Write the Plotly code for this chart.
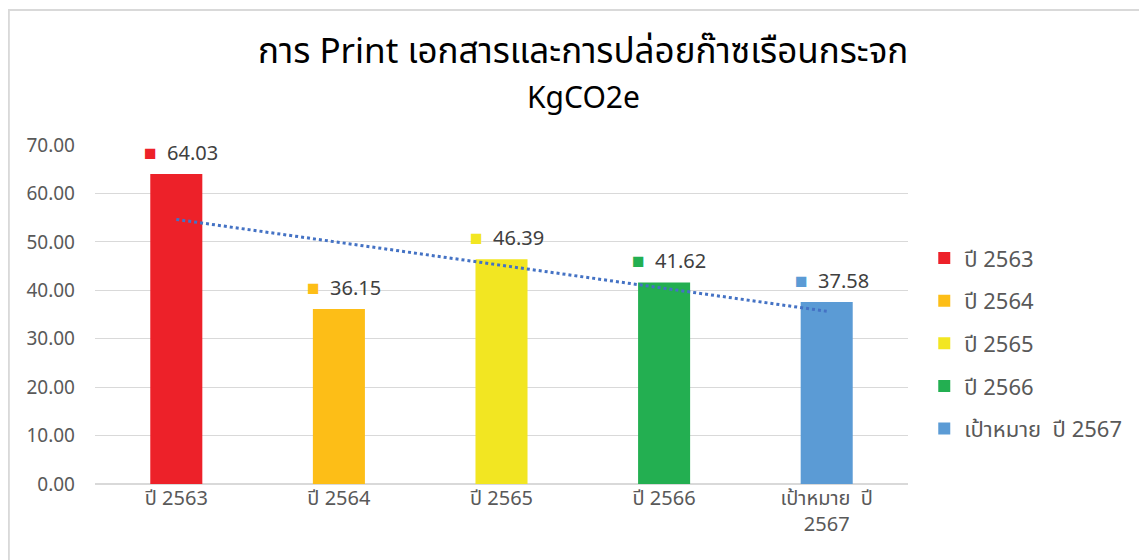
import numpy as np
import plotly.graph_objects as go

categories = ["ปี 2563", "ปี 2564", "ปี 2565", "ปี 2566", "เป้าหมาย  ปี 2567"]
tick_labels = ["ปี 2563", "ปี 2564", "ปี 2565", "ปี 2566", "เป้าหมาย  ปี<br>2567"]
values = [64.03, 36.15, 46.39, 41.62, 37.58]
colors = ["#ED2129", "#FDBE17", "#F2E622", "#23AF51", "#5B9BD5"]
title_line1 = "การ Print เอกสารและการปล่อยก๊าซเรือนกระจก"
title_line2 = "KgCO2e"

FONT = "Noto Sans, Noto Sans Thai, Tahoma, sans-serif"
x = list(range(len(categories)))

fig = go.Figure()
for i, (c, v, col) in enumerate(zip(categories, values, colors)):
    fig.add_trace(go.Bar(x=[i], y=[v], name=c, legendgroup=f"g{i}",
                         marker=dict(color=col, line=dict(width=0)),
                         width=0.32, hoverinfo="y"))

# linear trendline from data
slope, intercept = np.polyfit(np.array(x) + 1, values, 1)
tx = np.array(x, dtype=float)
ty = slope * (tx + 1) + intercept
fig.add_trace(go.Scatter(x=tx, y=ty, mode="lines", showlegend=False,
                         line=dict(color="#4472C4", width=3, dash="dot"), hoverinfo="skip"))

for i, (v, col) in enumerate(zip(values, colors)):
    fig.add_annotation(x=i, y=v, xref="x", yref="y", yshift=22, xshift=5, showarrow=False,
                       text=f"<span style='color:{col};font-size:21px'>■</span>  {v:.2f}",
                       font=dict(size=20, color="#404040", family=FONT))

title_x = (575 - 87) / 813
fig.add_annotation(xref="paper", yref="paper", x=title_x, y=(476 - 42) / 339, xanchor="center",
                   yanchor="middle", showarrow=False, text=title_line1,
                   font=dict(size=35, color="#000000", family=FONT))
fig.add_annotation(xref="paper", yref="paper", x=title_x, y=(476 - 88) / 339, xanchor="center",
                   yanchor="middle", showarrow=False, text=title_line2,
                   font=dict(size=30, color="#000000", family=FONT))

fig.add_shape(type="rect", xref="paper", yref="paper",
              x0=-0.106, x1=1.4, y0=-0.5, y1=1.398,
              line=dict(color="#D9D9D9", width=2), fillcolor="rgba(0,0,0,0)", layer="below")

fig.update_layout(
    width=1147, height=560,
    margin=dict(l=87, r=247, t=137, b=84),
    paper_bgcolor="white", plot_bgcolor="white",
    barmode="overlay",
    font=dict(family=FONT, color="#595959"),
    legend=dict(x=1.02, xanchor="left", y=0.415, yanchor="middle",
                font=dict(size=22, color="#595959", family=FONT),
                itemwidth=30, tracegroupgap=11),
    showlegend=True,
)
fig.update_xaxes(tickmode="array", tickvals=x, ticktext=tick_labels, range=[-0.5, 4.5],
                 showgrid=False, showline=False, ticks="",
                 tickfont=dict(size=20, color="#595959"))
fig.update_yaxes(range=[0, 70], dtick=10, tickformat=".2f", showgrid=True,
                 gridcolor="#D9D9D9", gridwidth=1, zeroline=True, zerolinecolor="#D9D9D9",
                 showline=False, ticks="", ticklabelstandoff=19,
                 tickfont=dict(size=19, color="#595959"))

fig.write_html("out.html")
